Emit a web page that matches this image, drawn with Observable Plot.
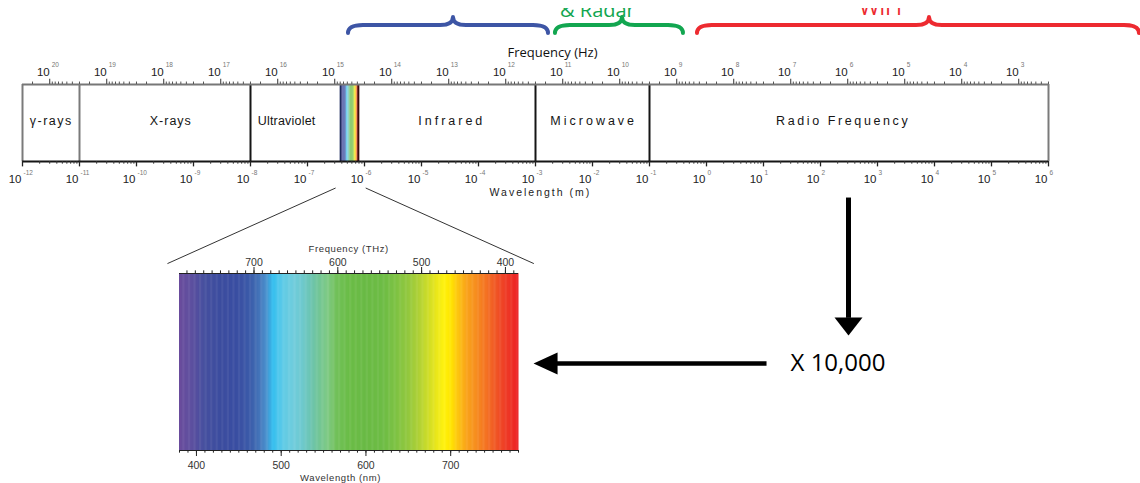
<!DOCTYPE html>
<html><head><meta charset="utf-8">
<script src="https://cdn.jsdelivr.net/npm/d3@7"></script>
<script src="https://cdn.jsdelivr.net/npm/@observablehq/plot@0.6"></script>
<style>
body{margin:0;background:#fff;}
#chart{position:relative;width:1140px;height:483px;overflow:hidden;background:#fff;font-family:"Liberation Sans",Arial,sans-serif;}
#chart svg{position:absolute;left:0;overflow:hidden;}
</style></head><body><div id="chart"></div>
<script>
// ---------------- data ----------------
const C = 2.998e8;
const regionNames = ["γ-rays", "X-rays", "Ultraviolet", "Infrared", "Microwave", "Radio Frequency"];
const regionLabelWavelengths = [3.2e-12, 4.0e-10, 4.3e-8, 3.4e-5, 1.05e-2, 250];
const regionBoundaries = [1e-12, 1e-11, 1e-8, 1e-3, 1e-1, 1e6];
const darkBoundaries = [1e-8, 1e-3, 1e-1];
const visibleRange = [3.8e-7, 7.8e-7];
const freqExponents = [20, 19, 18, 17, 16, 15, 14, 13, 12, 11, 10, 9, 8, 7, 6, 5, 4, 3];
const waveExponents = [-12, -11, -10, -9, -8, -7, -6, -5, -4, -3, -2, -1, 0, 1, 2, 3, 4, 5, 6];
const braceFrom = [5.24e-7, 2.24e-3, 0.695];
const braceTip = [3.64e-5, 3.36e-2, 8170];
const braceTo = [1.69e-3, 0.394, 3.94e7];
const braceColors = ["#3d55a5", "#12a650", "#ed2a30"];
const braceLabels = ["", "& Radar", "WiFi"];
const braceLabelWavelengths = [3.64e-5, 1.22e-2, 1130];
// visible spectrum colour stops (nm -> colour)
const specStops = [380, 395, 410, 430, 450, 465, 475, 483, 490, 497, 505, 515, 525, 535, 545, 555, 565, 580, 600, 620, 635, 650, 662, 672, 682, 692, 700, 708, 718, 730, 745, 760, 780];
const specColors = ["#6a4c9c", "#5c4f9f", "#45509f", "#3b4c9f", "#3a4fa2", "#3c5eab", "#4577bb", "#4993cf", "#31bdee", "#4fc7ec", "#64cbe3", "#70ccdc", "#6ec9cd", "#6cc4b1", "#73c595", "#7fca84", "#72c05a", "#6bbd47", "#6aba45", "#6dbc45", "#7dc243", "#93c83e", "#aed036", "#cadb2a", "#e6e51c", "#fff20d", "#ffe500", "#fdc70f", "#f9a51a", "#f68d1f", "#f36b24", "#ef4626", "#ec1f25"];
const nmLabels = [400, 500, 600, 700];
const thzLabels = [400, 500, 600, 700];
const thzDomain = [788.9, 384.4];
const magnification = "X 10,000";
// annotation anchors (data units of each plot)
const downArrowX = 310, downArrowY = [-0.468, -2.03], downHeadY = -2.143;
const leftArrowY = -2.623, leftArrowX = [11.3, 2.2e-3], leftHeadX = 1.5e-3;
const magnificationX = 29.8;
const connectorLower = [365.8, 798.1], connectorUpper = [564.2, 599.7];

// ---------------- derived tick positions ----------------
const freqMajor = freqExponents.map(e => C / 10 ** e);
const freqMinor = [];
for (let k = 2; k <= 20; k++) for (let m = 2; m <= 9; m++) {
  const l = C / (m * 10 ** k);
  if (l >= 1e-12 && l <= 1e6) freqMinor.push(l);
}
const waveMajor = waveExponents.map(e => 10 ** e);
const waveMinor = [];
for (let k = -12; k < 6; k++) for (let m = 2; m <= 9; m++) waveMinor.push(m * 10 ** k);
const visibleStrip = d3.range(380, 780, 2);
const insetStrip = d3.range(380, 780, 1);
const nmMinor = d3.range(380, 781, 10);
const thzMinor = d3.range(390, 781, 10);

const colorScale = {type: "linear", domain: specStops, range: specColors, interpolate: "rgb"};
const baseStyle = {background: "transparent", overflow: "hidden", fontFamily: "'Liberation Sans', Arial, sans-serif"};
const chart = document.getElementById("chart");

// brace render mark
const braceEndY = 1.662, braceBarY = 1.766, braceTipY = 1.870;
const braceMark = (index, scales) => {
  const {x, y} = scales;
  const ns = "http://www.w3.org/2000/svg";
  const g = document.createElementNS(ns, "g");
  braceFrom.forEach((f, i) => {
    const x0 = x(f), xm = x(braceTip[i]), x1 = x(braceTo[i]);
    const ye = y(braceEndY), yb = y(braceBarY), yt = y(braceTipY);
    const r = 15, s = 13;
    const p = document.createElementNS(ns, "path");
    p.setAttribute("d", `M${x0},${ye}Q${x0},${yb} ${x0 + r},${yb}L${xm - s},${yb}Q${xm},${yb} ${xm},${yt}Q${xm},${yb} ${xm + s},${yb}L${x1 - r},${yb}Q${x1},${yb} ${x1},${ye}`);
    p.setAttribute("fill", "none");
    p.setAttribute("stroke", braceColors[i]);
    p.setAttribute("stroke-width", 4);
    p.setAttribute("stroke-linecap", "round");
    p.setAttribute("stroke-linejoin", "round");
    g.appendChild(p);
  });
  return g;
};
const downHead = {draw(ctx) { ctx.moveTo(-14, -9); ctx.lineTo(14, -9); ctx.lineTo(0, 9); ctx.closePath(); }};
const leftHead = {draw(ctx) { ctx.moveTo(12, -11); ctx.lineTo(12, 11); ctx.lineTo(-12, 0); ctx.closePath(); }};

// ---------------- main spectrum ----------------
const main = Plot.plot({
  width: 1140, height: 475,
  marginLeft: 22, marginRight: 92, marginTop: 76, marginBottom: 322,
  x: {type: "log", domain: [1e-12, 1e6], axis: null},
  y: {domain: [0, 1], axis: null},
  color: colorScale,
  style: baseStyle,
  marks: [
    Plot.rect(visibleStrip, {x1: d => d * 1e-9, x2: d => (d + 2.6) * 1e-9, y1: 0, y2: 1, fill: d => d}),
    Plot.ruleX([visibleRange[0]], {y1: 0, y2: 1, stroke: "#1c2a5c", strokeWidth: 1.8}),
    Plot.ruleX([visibleRange[1]], {y1: 0, y2: 1, stroke: "#3a0c0c", strokeWidth: 2}),
    Plot.ruleX(regionBoundaries, {filter: d => !darkBoundaries.includes(d), y1: 0, y2: 1, stroke: "#7a7a7a", strokeWidth: 2}),
    Plot.ruleX(darkBoundaries, {y1: 0, y2: 1, stroke: "#151515", strokeWidth: 2}),
    Plot.ruleY([1], {stroke: "#777", strokeWidth: 2}),
    Plot.ruleY([0], {stroke: "#151515", strokeWidth: 2}),
    // frequency ticks (top)
    Plot.ruleX(freqMajor, {y1: 1, y2: 1.068, stroke: "#555", strokeWidth: 1.2}),
    Plot.ruleX(freqMinor, {y1: 1, y2: 1.032, stroke: "#555", strokeWidth: 1}),
    // wavelength ticks (bottom)
    Plot.ruleX(waveMajor, {y1: 0, y2: -0.07, stroke: "#222", strokeWidth: 1.3}),
    Plot.ruleX(waveMinor, {y1: 0, y2: -0.035, stroke: "#333", strokeWidth: 1}),
    // frequency labels
    Plot.text(freqExponents, {x: e => C / 10 ** e, y: 1.156, text: () => "10", textAnchor: "end", fontSize: 11.5, fill: "#222"}),
    Plot.text(freqExponents, {x: e => C / 10 ** e, y: 1.25, text: e => String(e), textAnchor: "start", dx: 2, fontSize: 6.5, fill: "#777"}),
    // wavelength labels
    Plot.text(waveExponents, {x: e => 10 ** e, y: -0.234, text: () => "10", textAnchor: "end", dx: -1, fontSize: 11.5, fill: "#222"}),
    Plot.text(waveExponents, {x: e => 10 ** e, y: -0.145, text: e => String(e), textAnchor: "start", dx: 1, fontSize: 6.5, fill: "#777"}),
    Plot.text(["Frequency (Hz)"], {x: 1.99e-3, y: 1.416, text: d => d, fontFamily: "Open Sans", fontSize: 13, fill: "#111"}),
    Plot.text(["Wavelength (m)"], {x: 1.22e-3, y: -0.405, text: d => d, fontSize: 10.5, fill: "#222"}),
    // region labels
    Plot.text(regionNames, {x: (d, i) => regionLabelWavelengths[i], y: 0.52, text: d => d, fontSize: 12.5, fill: "#151515"}),
    // braces
    braceMark,
    Plot.text([braceLabels[1]], {x: braceLabelWavelengths[1], y: 1.883, text: d => d, lineAnchor: "bottom", fontFamily: "Open Sans", fontSize: 20, fill: braceColors[1]}),
    Plot.text([braceLabels[2]], {x: braceLabelWavelengths[2], y: 1.909, text: d => d, lineAnchor: "bottom", fontFamily: "Open Sans", fontSize: 22, fill: braceColors[2]}),
    // arrows
    Plot.link([0], {x1: downArrowX, x2: downArrowX, y1: downArrowY[0], y2: downArrowY[1], stroke: "#000", strokeWidth: 5}),
    Plot.dot([0], {x: downArrowX, y: downHeadY, symbol: downHead, r: 10, fill: "#000", stroke: "none"}),
    Plot.link([0], {x1: leftArrowX[0], x2: leftArrowX[1], y1: leftArrowY, y2: leftArrowY, stroke: "#000", strokeWidth: 4.5}),
    Plot.dot([0], {x: leftHeadX, y: leftArrowY, symbol: leftHead, r: 10, fill: "#000", stroke: "none"}),
    Plot.text([magnification], {x: magnificationX, y: leftArrowY, text: d => d, textAnchor: "start", fontFamily: "Open Sans", fontSize: 24, fill: "#000"})
  ]
});
main.style.top = "8px";
chart.appendChild(main);

// ---------------- inset: visible spectrum (wavelength) ----------------
const insetMargins = {width: 1140, height: 483, marginLeft: 179, marginRight: 622, marginTop: 273, marginBottom: 33};
const inset = Plot.plot({
  ...insetMargins,
  x: {domain: [380, 780], axis: null},
  y: {domain: [0, 1], axis: null},
  color: colorScale,
  style: baseStyle,
  marks: [
    Plot.rect(insetStrip, {x1: d => d, x2: d => d + 1.6, y1: 0, y2: 1, fill: d => d}),
    Plot.ruleY([0], {stroke: "#222", strokeWidth: 1}),
    Plot.ruleY([1], {stroke: "#222", strokeWidth: 1}),
    Plot.ruleX(nmMinor, {y1: 0, y2: -0.015, stroke: "#222"}),
    Plot.ruleX(nmLabels, {y1: 0, y2: -0.034, stroke: "#222"}),
    Plot.text(nmLabels, {x: d => d, y: -0.085, text: d => String(d), fontSize: 10.5, fill: "#333"}),
    Plot.text(["Wavelength (nm)"], {x: 570, y: -0.153, text: d => d, fontSize: 9.5, fill: "#333"}),
    Plot.link(connectorLower, {x1: d => d, y1: 1.056, x2: (d, i) => connectorUpper[i], y2: 1.483, stroke: "#333", strokeWidth: 1})
  ]
});
inset.style.top = "0px";
chart.appendChild(inset);

// ---------------- inset: frequency axis (THz) ----------------
const insetTop = Plot.plot({
  ...insetMargins,
  x: {domain: thzDomain, axis: null},
  y: {domain: [0, 1], axis: null},
  style: baseStyle,
  marks: [
    Plot.ruleX(thzMinor, {y1: 1, y2: 1.015, stroke: "#222"}),
    Plot.ruleX(thzLabels, {y1: 1, y2: 1.034, stroke: "#222"}),
    Plot.text(thzLabels, {x: d => d, y: 1.062, text: d => String(d), fontSize: 10.5, fill: "#333"}),
    Plot.text(["Frequency (THz)"], {x: 587, y: 1.141, text: d => d, fontSize: 9.5, fill: "#333"})
  ]
});
insetTop.style.top = "0px";
chart.appendChild(insetTop);

// letter spacing tweaks
const spacing = {"γ-rays": 1.5, "X-rays": 1, "Ultraviolet": 0.2, "Infrared": 3, "Microwave": 3, "Radio Frequency": 2.6, "Wavelength (m)": 2, "Frequency (THz)": 0.6, "Wavelength (nm)": 0.6};
chart.querySelectorAll("text").forEach(t => {
  const s = spacing[t.textContent];
  if (s !== undefined) t.style.letterSpacing = s + "px";
});
</script></body></html>
